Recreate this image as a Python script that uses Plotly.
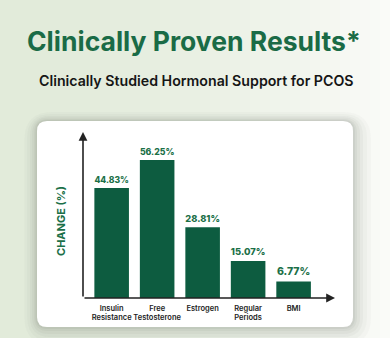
import plotly.graph_objects as go

categories = ["Insulin<br>Resistance", "Free<br>Testosterone", "Estrogen", "Regular<br>Periods", "BMI"]
values = [44.83, 56.25, 28.81, 15.07, 6.77]
value_labels = ["44.83%", "56.25%", "28.81%", "15.07%", "6.77%"]

W, H = 390, 338
ML, MR, MT, MB = 83, 55, 132, 40
PW, PH = W - ML - MR, H - MT - MB
GREEN = "#0d5c40"
TEXT_GREEN = "#1b7048"

def px(x):
    return (x - ML) / PW

def py(y):
    return 1 - (y - MT) / PH

fig = go.Figure()
fig.add_trace(go.Bar(
    x=list(range(len(categories))), y=values,
    marker=dict(color=GREEN, line=dict(width=0)),
    width=0.76,
    text=value_labels, textposition="outside",
    textfont=dict(family="Inter", size=10.5, color=TEXT_GREEN, weight=800),
    cliponaxis=False, hoverinfo="skip",
))

def rr(x0, y0, x1, y1, r):
    return (f"M {px(x0+r)},{py(y0)} L {px(x1-r)},{py(y0)} Q {px(x1)},{py(y0)} {px(x1)},{py(y0+r)} "
            f"L {px(x1)},{py(y1-r)} Q {px(x1)},{py(y1)} {px(x1-r)},{py(y1)} "
            f"L {px(x0+r)},{py(y1)} Q {px(x0)},{py(y1)} {px(x0)},{py(y1-r)} "
            f"L {px(x0)},{py(y0+r)} Q {px(x0)},{py(y0)} {px(x0+r)},{py(y0)} Z")

shapes = []
# background gradient strips (decoration)
c0 = (226, 235, 218)
c1 = (250, 251, 248)
N = 39
for i in range(N):
    t = i / (N - 1)
    t2 = t ** 1.6
    col = tuple(int(c0[k] + (c1[k] - c0[k]) * t2) for k in range(3))
    shapes.append(dict(type="rect", xref="paper", yref="paper", layer="below",
                       x0=px(i * W / N), x1=px((i + 1) * W / N + 1), y0=py(H), y1=py(0),
                       fillcolor=f"rgb{col}", line=dict(width=0)))
# card shadow
for k, op in [(18, 0.03), (14, 0.035), (10, 0.045), (7, 0.05), (4, 0.06), (2, 0.07)]:
    shapes.append(dict(type="path", xref="paper", yref="paper", layer="below",
                       path=rr(37 - k * 0.7, 121 - k * 0.5, 353 + k, 327 + k, 10 + k),
                       fillcolor=f"rgba(90,100,85,{op})", line=dict(width=0)))
# card
shapes.append(dict(type="path", xref="paper", yref="paper", layer="below",
                   path=rr(37, 121, 353, 327, 10),
                   fillcolor="white", line=dict(width=0)))

annotations = [
    dict(text="<b>Clinically Proven Results*</b>", xref="paper", yref="paper",
         x=px(194), y=py(41), xanchor="center", yanchor="middle", showarrow=False,
         font=dict(family="Inter", size=26.5, color="#1a6b46")),
    dict(text="Clinically Studied Hormonal Support for PCOS", xref="paper", yref="paper",
         x=px(196), y=py(80), xanchor="center", yanchor="middle", showarrow=False,
         font=dict(family="Inter", size=14.2, color="#151515", weight=600)),
    dict(text="CHANGE (%)", xref="paper", yref="paper",
         x=px(61), y=py(221), xanchor="center", yanchor="middle", showarrow=False,
         textangle=-90, font=dict(family="Inter", size=11, color=TEXT_GREEN, weight=700)),
    # axis arrows
    dict(x=0, y=1.0, xref="x domain", yref="y domain", ax=0, ay=0, axref="x domain", ayref="y domain",
         text="", showarrow=True, arrowhead=2, arrowsize=1.1, arrowwidth=1.6, arrowcolor="#222222"),
    dict(x=1.0, y=0, xref="x domain", yref="y domain", ax=0, ay=0, axref="x domain", ayref="y domain",
         text="", showarrow=True, arrowhead=2, arrowsize=1.1, arrowwidth=1.6, arrowcolor="#222222"),
]

fig.update_layout(
    width=W, height=H,
    margin=dict(l=ML, r=MR, t=MT, b=MB),
    paper_bgcolor="#eef2ea", plot_bgcolor="rgba(0,0,0,0)",
    showlegend=False,
    shapes=shapes,
    annotations=annotations,
    xaxis=dict(range=[-0.63, 4.91], tickmode="array", tickvals=list(range(len(categories))),
               ticktext=categories, tickangle=0, showgrid=False, zeroline=False, showline=False,
               ticks="", ticklen=0, ticklabelstandoff=4,
               tickfont=dict(family="Inter", size=7.5, color="#222222", weight=600),
               fixedrange=True),
    yaxis=dict(range=[0, 67.7], showgrid=False, zeroline=False, showline=False,
               showticklabels=False, ticks="", fixedrange=True),
)

fig.write_html("out.html")
